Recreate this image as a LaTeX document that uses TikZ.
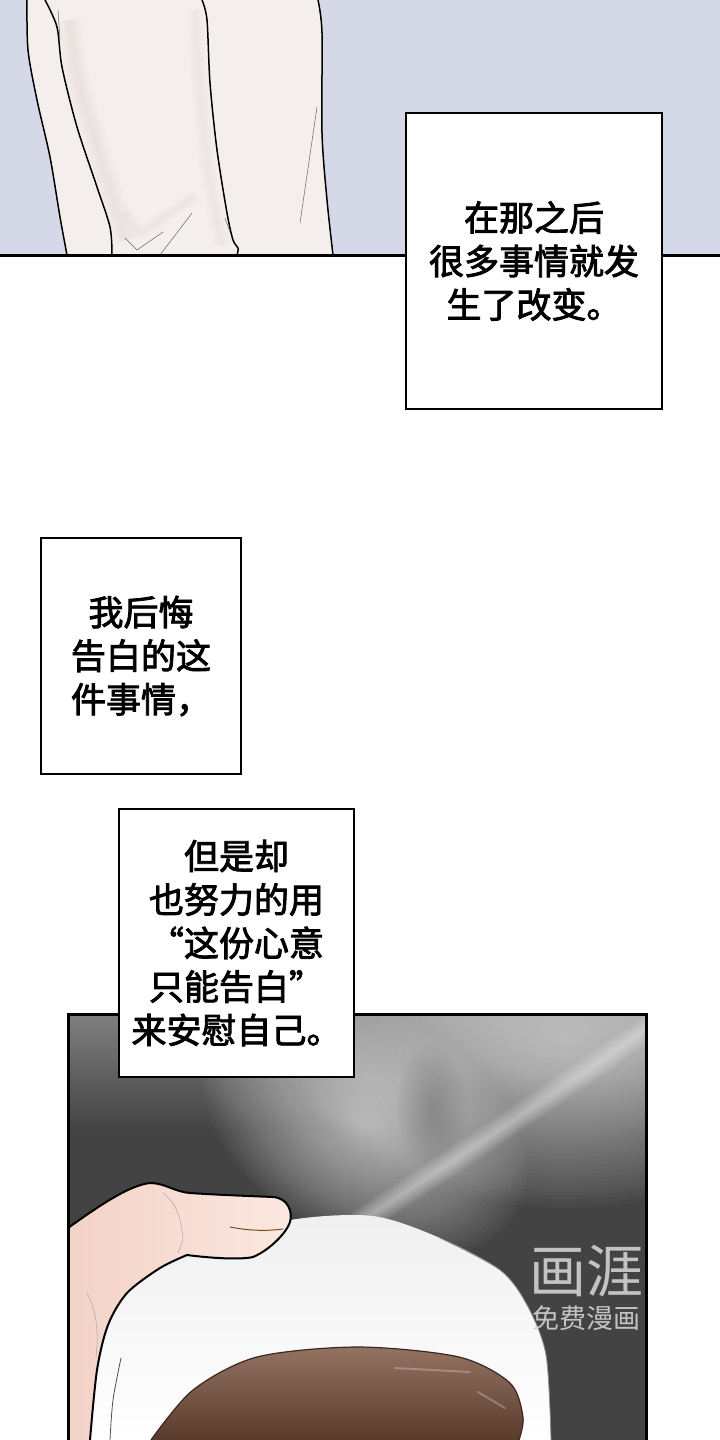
\documentclass[tikz,border=0pt]{standalone}
\usepackage{fontspec}
\usetikzlibrary{positioning}
\newfontfamily\cjk{Noto Sans CJK SC}[FakeBold=2.4]
\newfontfamily\cjkthin{Noto Sans CJK SC}

\definecolor{wallblue}{HTML}{D5D9E7}
\definecolor{shirt}{HTML}{F4EEEC}
\definecolor{shirtshade}{HTML}{E3D8D6}
\definecolor{panelgray}{HTML}{434343}
\definecolor{skin}{HTML}{FBE8E0}
\definecolor{skinshade}{HTML}{F3D2C7}
\definecolor{coffeetop}{HTML}{937262}
\definecolor{coffeebot}{HTML}{5A3B2B}
\definecolor{coffeeline}{HTML}{3A2820}
\definecolor{markgray}{HTML}{D2D2D2}

\tikzset{
  caption/.style={draw, line width=2pt, fill=white, align=center, inner sep=0pt,
    font=\cjk\fontsize{35}{43.5}\selectfont},
  ink/.style={line width=1.5pt, line join=round, line cap=round},
  fine/.style={line width=0.5pt, black!60, line cap=round},
  watermark/.style={text=markgray, opacity=0.9, inner sep=0pt}
}

\begin{document}
\begin{tikzpicture}[x=1pt,y=-1pt]
    \useasboundingbox (0,0) rectangle (720,1440);
    \fill[white] (0,0) rectangle (720,1440);

    % top panel: wall and shirt
    \fill[wallblue] (0,0) rectangle (720,255);
    \fill[shirt] plot[smooth] coordinates {(27,0) (28,50) (37,100) (50,157) (60,217) (67,255)}
        -- plot[smooth] coordinates {(333,255) (327,200) (322,133) (322,33) (318,0)} -- cycle;
    \foreach \w in {4,8,...,24}
        \draw[shirtshade, line width=\w pt, opacity=0.09] plot[smooth] coordinates {(70,20) (76,70) (92,130) (110,190) (126,240)};
    \foreach \w in {4,8,12}
        \draw[shirtshade, line width=\w pt, opacity=0.12, line join=round] (125,212) -- (140,234) -- (195,196);
    \foreach \w in {4,8,...,16}
        \draw[shirtshade, line width=\w pt, opacity=0.08] plot[smooth] coordinates {(195,10) (200,90) (208,170) (222,245)};
    \draw[ink] plot[smooth] coordinates {(27,0) (28,50) (37,100) (50,157) (60,217) (67,255)};
    \draw[ink] plot[smooth] coordinates {(45,0) (57,27) (62,67) (77,127) (97,187) (110,227) (112,255)};
    \draw[ink] plot[smooth] coordinates {(202,0) (207,20) (210,83) (217,150) (227,213) (233,240) (238,248) (237,255)};
    \draw[ink] plot[smooth] coordinates {(318,0) (322,33) (322,133) (327,200) (333,255)};
    \draw[fine] (58,10) -- (60,40);
    \draw[fine] (317,107) -- (300,223);
    \draw[fine] (125,238) -- (137,250) -- (163,232);
    \draw[fine] (160,255) -- (192,213);
    \draw[fine] (225,218) -- (230,232);
    \draw[line width=3pt] (0,255) -- (720,255);

    % bottom panel: steam and cup
    \begin{scope}
        \clip (68,1014) rectangle (646,1440);
        \fill[panelgray] (68,1014) rectangle (646,1440);
        \shade[top color=black!50, bottom color=panelgray] (68,1014) rectangle (646,1130);
        \foreach \k in {1,...,40}
            \fill[white, opacity=0.025] (565,1040) ellipse ({\k*7} and {\k*4.2});
        \foreach \k in {1,...,35}
            \fill[white, opacity=0.026, rotate around={-30:(365,1125)}] (365,1125) ellipse ({\k*5} and {\k*3.3});
        \foreach \k in {1,...,16}
            \fill[black, opacity=0.012] (432,1108) ellipse ({\k*2.2} and {\k*4});
        \foreach \w in {2,4,...,26}
            \draw[white, opacity=0.04, line width=\w pt, line cap=round] (648,1028) .. controls (560,1090) and (440,1170) .. (360,1222);

        \shade[top color=black!6, bottom color=white] plot[smooth] coordinates {(90,1440) (97,1370) (108,1325) (127,1293) (160,1268) (200,1245) (290,1220) (373,1216) (440,1238) (500,1270) (527,1305) (546,1355) (551,1440)} -- cycle;
        \draw[black!45, line width=0.8pt] plot[smooth] coordinates {(440,1238) (500,1270) (527,1305) (546,1355) (551,1440)};
        \draw[black!70, line width=0.8pt] plot[smooth] coordinates {(121,1358) (113,1400) (110,1440)};
        \shade[top color=coffeetop, bottom color=coffeebot] plot[smooth] coordinates {(151,1440) (193,1390) (257,1357) (358,1347) (459,1357) (510,1383) (523,1417) (519,1440)} -- cycle;
        \draw[coffeeline, line width=1.2pt] plot[smooth] coordinates {(151,1440) (193,1390) (257,1357) (358,1347) (459,1357) (510,1383) (523,1417) (519,1440)};
        \draw[white, opacity=0.25, line width=2pt, line cap=round] (395,1368) -- (470,1372);
        \draw[white, opacity=0.25, line width=2pt, line cap=round] (478,1392) -- (505,1408);

        % hand
        \shade[left color=skinshade, right color=skin] (68,1228) .. controls (100,1205) and (130,1185) .. (150,1183)
            .. controls (165,1183) and (175,1192) .. (190,1193)
            .. controls (220,1195) and (250,1196) .. (273,1197)
            .. controls (288,1198) and (293,1212) .. (290,1222)
            .. controls (287,1232) and (270,1250) .. (253,1257)
            .. controls (240,1260) and (210,1258) .. (187,1255)
            -- plot[smooth] coordinates {(187,1255) (160,1268) (127,1293) (108,1325) (97,1370) (90,1440)} -- (68,1440) -- cycle;
        \draw[ink, line width=2pt] (68,1228) .. controls (100,1205) and (130,1185) .. (150,1183)
            .. controls (165,1183) and (175,1192) .. (190,1193)
            .. controls (220,1195) and (250,1196) .. (273,1197)
            .. controls (288,1198) and (293,1212) .. (290,1222)
            .. controls (287,1232) and (270,1250) .. (253,1257)
            .. controls (240,1260) and (210,1258) .. (187,1255)
            -- plot[smooth] coordinates {(187,1255) (160,1268) (127,1293) (108,1325) (97,1370) (90,1440)};
        \draw[fine, black!35] (163,1193) .. controls (175,1202) and (181,1215) .. (183,1240) -- (178,1253);
        \draw[fine, black!35] (87,1293) .. controls (96,1310) and (99,1330) .. (96,1357);
        \draw[line width=1pt, brown!60!black] (230,1227) .. controls (250,1231) and (268,1231) .. (283,1229);

        \node[watermark, font=\cjkthin\fontsize{57}{57}\selectfont] (huaya) at (586,1271) {画涯};
        \node[watermark, font=\cjkthin\fontsize{27}{27}\selectfont, below=8pt of huaya] (mianfei) {免费漫画};
    \end{scope}
    \draw[line width=3pt] (68,1440) -- (68,1014) -- (646,1014) -- (646,1440);

    % captions
    \node[caption, minimum width=256pt, minimum height=296pt] (after) at (534,261) {在那之后\\很多事情就发\\生了改变。};
    \node[caption, minimum width=200pt, minimum height=236pt] (regret) at (141,656) {我后悔\\告白的这\\件事情，};
    \node[caption, minimum width=235pt, minimum height=268pt] (comfort) at (236.5,943) {但是却\\也努力的用\\“这份心意\\只能告白”\\来安慰自己。};
\end{tikzpicture}
\end{document}
